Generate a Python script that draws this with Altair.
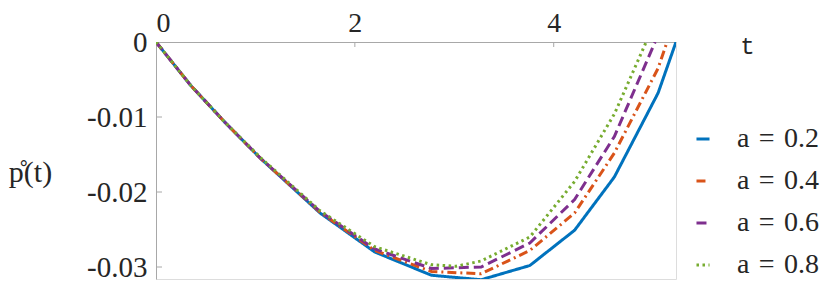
import altair as alt
import pandas as pd

series = ["a = 0.2", "a = 0.4", "a = 0.6", "a = 0.8"]
colors = ["#0072BD", "#D95319", "#7E2F8E", "#77AC30"]
dashes = [[1, 0], [9, 4, 2, 4], [10, 5], [2.5, 3.5]]

t_02 = [0, 0.35, 0.7, 1.05, 1.65, 2.2, 2.77, 3.27, 3.76, 4.21, 4.61, 5.05, 5.23]
p_02 = [0, -0.0058, -0.0108, -0.0155, -0.0228, -0.0280, -0.0311, -0.0317, -0.0298, -0.0251, -0.0180, -0.0068, 0]

t_04 = [0, 0.35, 0.7, 1.05, 1.65, 2.2, 2.77, 3.27, 3.76, 4.21, 4.61, 5.05, 5.14]
p_04 = [0, -0.0058, -0.0108, -0.0155, -0.0227, -0.0278, -0.0306, -0.0309, -0.0278, -0.0228, -0.0148, -0.0035, 0]

t_06 = [0, 0.35, 0.7, 1.05, 1.65, 2.2, 2.77, 3.27, 3.76, 4.21, 4.61, 5.02]
p_06 = [0, -0.0058, -0.0108, -0.0155, -0.0226, -0.0276, -0.0302, -0.0300, -0.0268, -0.0210, -0.0126, 0]

t_08 = [0, 0.35, 0.7, 1.05, 1.65, 2.2, 2.77, 3.02, 3.27, 3.76, 4.21, 4.61, 4.93]
p_08 = [0, -0.0058, -0.0108, -0.0154, -0.0225, -0.0273, -0.0297, -0.0299, -0.0292, -0.0260, -0.0186, -0.0096, 0]

x_ticks = [0, 2, 4]
y_ticks = [0, -0.01, -0.02, -0.03]

rows = []
for name, ts, ps in zip(series, [t_02, t_04, t_06, t_08], [p_02, p_04, p_06, p_08]):
    for t, p in zip(ts, ps):
        rows.append({"series": name, "t": t, "p": p})
df = pd.DataFrame(rows)

x_scale = alt.Scale(domain=[0, 5.23], nice=False, zero=False)
y_scale = alt.Scale(domain=[-0.0316, 0], nice=False, zero=False)

SERIF = "Liberation Serif"
TXT = "#262626"
AX = "#a8a8a8"

legend = alt.Legend(title=None, orient="none", legendX=533, legendY=83,
                    symbolType="stroke", symbolSize=170, symbolStrokeWidth=3,
                    labelFont=SERIF, labelFontSize=28, labelColor=TXT,
                    labelExpr="replace(replace(datum.label, ' ', '\u2004'), ' ', '\u2004')",
                    labelOffset=20, rowPadding=14, padding=0)

lines = alt.Chart(df).mark_line(strokeWidth=3, clip=True).encode(
    x=alt.X("t:Q", scale=x_scale,
            axis=alt.Axis(orient="top", values=x_ticks, format="d", title="t",
                          titleFont="Liberation Mono",
                          titleFontSize=24, titleFontWeight="normal", titleColor=TXT,
                          titleAngle=0, titleX=591, titleY=4, titleBaseline="middle",
                          titleAlign="center",
                          labelFont=SERIF, labelFontSize=28, labelColor=TXT, labelPadding=11,
                          labelBaseline="alphabetic",
                          tickSize=0, domainColor=AX, grid=False)),
    y=alt.Y("p:Q", scale=y_scale,
            axis=alt.Axis(values=y_ticks, title="p̊(t)", titleFont=SERIF, titleFontSize=30,
                          titleFontWeight="normal", titleColor=TXT, titleAngle=0,
                          titleX=-126, titleY=130, titleAlign="center", titleBaseline="middle",
                          labelFont=SERIF, labelFontSize=29, labelColor=TXT, labelPadding=9,
                          labelExpr="datum.value == 0 ? '0' : '-' + format(abs(datum.value), '.2f')",
                          tickSize=0, domainColor=AX, grid=False)),
    color=alt.Color("series:N", scale=alt.Scale(domain=series, range=colors), legend=legend),
    strokeDash=alt.StrokeDash("series:N", scale=alt.Scale(domain=series, range=dashes), legend=legend),
)

ytick_df = pd.DataFrame({"p": y_ticks[1:]})
yticks = alt.Chart(ytick_df).mark_rule(color=AX, strokeWidth=1).encode(
    y=alt.Y("p:Q", scale=y_scale), x=alt.value(0), x2=alt.value(6))

xtick_df = pd.DataFrame({"t": x_ticks[1:]})
xticks = alt.Chart(xtick_df).mark_rule(color=AX, strokeWidth=1).encode(
    x=alt.X("t:Q", scale=x_scale), y=alt.value(0), y2=alt.value(5))

chart = alt.layer(yticks, xticks, lines).properties(
    width=520, height=237,
    autosize=alt.AutoSizeParams(type="none"),
    padding={"left": 148, "top": 34, "right": 147, "bottom": 5},
).configure_view(stroke=None).configure(background="white")

chart.save("out.html", embed_options={"renderer": "svg", "actions": False})
